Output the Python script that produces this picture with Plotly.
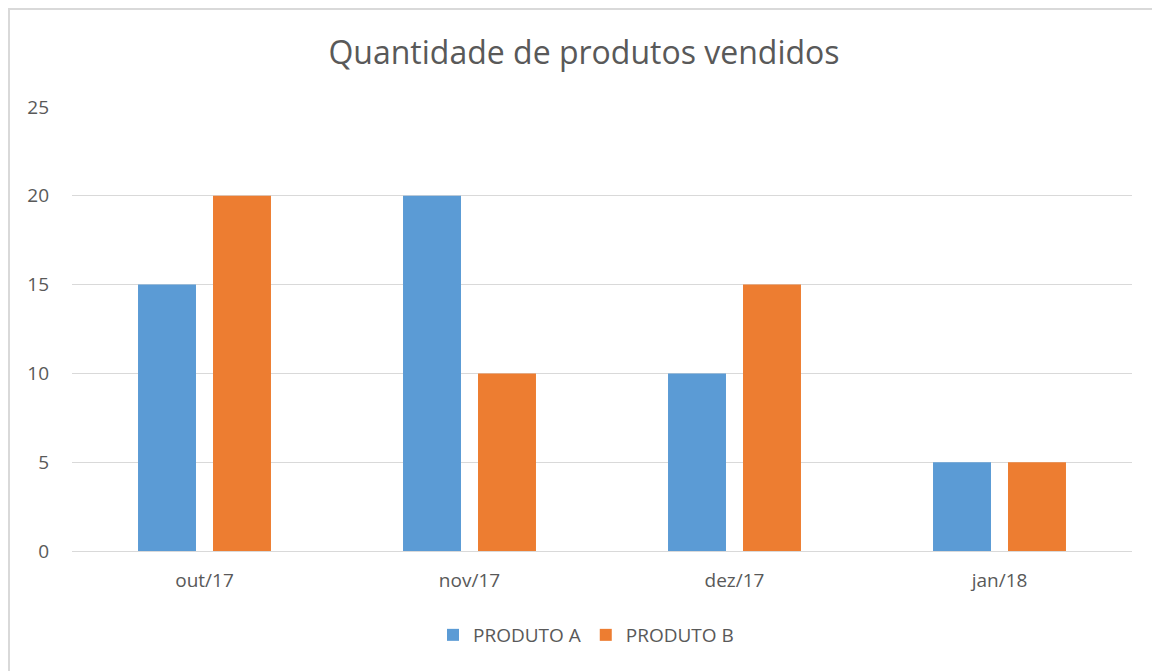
import plotly.graph_objects as go

categories = ["out/17", "nov/17", "dez/17", "jan/18"]
produto_a = [15, 20, 10, 5]
produto_b = [20, 10, 15, 5]
y_ticks = [0, 5, 10, 15, 20, 25]

# body margin is removed in post_script, so figure pixels == window pixels
W, H = 1152, 671
L, T = 72, 107
R = W - 1132
B = H - 551
pw = W - L - R
ph = H - T - B

def px(x):
    return (x - L) / pw

def py(y):
    return 1 - (y - T) / ph

fig = go.Figure()
fig.add_trace(go.Bar(name="PRODUTO A", x=categories, y=produto_a, marker=dict(color="#5B9BD5", line=dict(width=0))))
fig.add_trace(go.Bar(name="PRODUTO B", x=categories, y=produto_b, marker=dict(color="#ED7D31", line=dict(width=0))))

font_family = "Open Sans, DejaVu Sans, sans-serif"
fig.update_layout(
    width=W, height=H,
    margin=dict(l=L, r=R, t=T, b=B, autoexpand=False),
    paper_bgcolor="white", plot_bgcolor="white",
    barmode="group", bargap=0.434, bargroupgap=0.227,
    title=dict(text="Quantidade de produtos vendidos", x=px(584), xref="paper", xanchor="center",
               y=1 - 53 / H, yanchor="middle",
               font=dict(family=font_family, size=32, color="#595959")),
    font=dict(family=font_family, color="#595959"),
    xaxis=dict(showgrid=False, showline=True, linecolor="#d9d9d9", linewidth=1,
               ticks="", tickfont=dict(size=19, color="#595959"), ticklabelstandoff=12),
    yaxis=dict(range=[0, 25], tickvals=y_ticks, showgrid=True, gridcolor="#d9d9d9", gridwidth=1,
               zeroline=False, showline=False, ticks="",
               tickfont=dict(size=19, color="#595959"), ticklabelstandoff=22),
    legend=dict(orientation="h", x=px(586), xanchor="center", y=py(635), yanchor="middle",
                font=dict(size=19, color="#595959"), itemwidth=30, traceorder="normal"),
    shapes=[
        dict(type="line", xref="paper", yref="paper", x0=px(8), x1=px(1160), y0=py(9), y1=py(9),
             line=dict(color="#d9d9d9", width=2)),
        dict(type="line", xref="paper", yref="paper", x0=px(9), x1=px(9), y0=py(9), y1=py(680),
             line=dict(color="#d9d9d9", width=2)),
    ],
)

fig.write_html(
    "out.html",
    config={"displayModeBar": False},
    post_script="document.body.style.margin='0';document.body.style.overflow='hidden';"
                "document.documentElement.style.overflow='hidden';",
)
